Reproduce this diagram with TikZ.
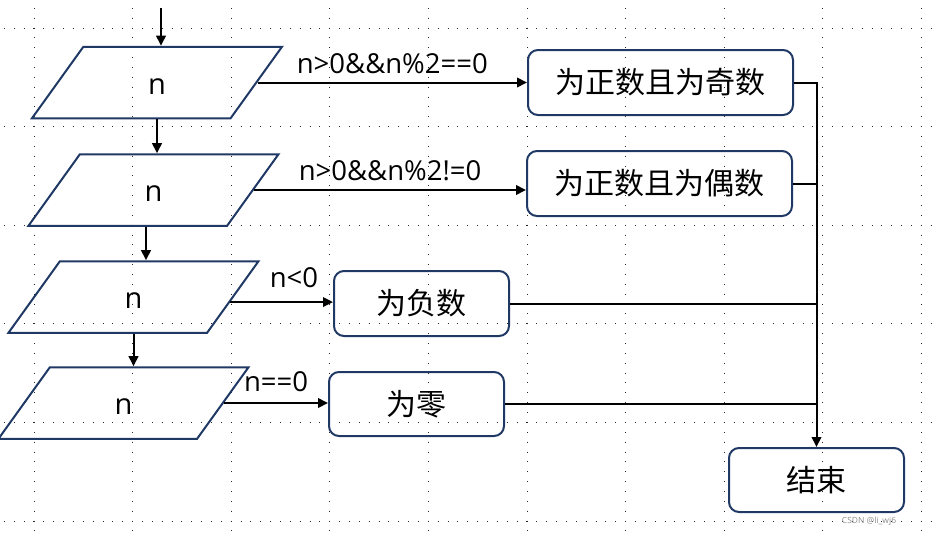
\documentclass[tikz,border=0pt]{standalone}
\usepackage{fontspec}
\setmainfont{Open Sans}
\newfontfamily\cjk{Noto Sans CJK SC}
\usetikzlibrary{shapes.geometric,arrows.meta}
\definecolor{navy}{RGB}{31,56,100}
\tikzset{
	gridline/.style={black!85, line width=1pt, dash pattern=on 1pt off 8.86pt},
	io/.style={trapezium, trapezium left angle=54.3, trapezium right angle=125.7, trapezium stretches body,
		draw=navy, line width=2pt, minimum width=250pt, inner xsep=0pt, inner ysep=24.25pt,
		text height=23pt, text depth=0pt, font=\fontsize{29}{34}\selectfont},
	res/.style={rectangle, rounded corners=10pt, draw=navy, line width=2pt, minimum height=65pt,
		inner sep=0pt, font=\cjk\fontsize{30}{36}\selectfont},
	flow/.style={line width=2pt, -{Triangle[length=10pt,width=9.5pt]}},
	joinline/.style={line width=2pt},
	lbl/.style={inner sep=0pt, font=\fontsize{27.5}{32}\selectfont}
}
\begin{document}
\begin{tikzpicture}[x=1pt,y=-1pt]
		\useasboundingbox (0,0) rectangle (938,536);
		% dotted grid
		\foreach \k in {0,...,5} \draw[gridline] (3.9,28+98.6*\k) -- (938,28+98.6*\k);
		\foreach \k in {0,...,9} \draw[gridline] (34+98.6*\k,7.8) -- (34+98.6*\k,536);
		%
		\node[io] (p1) at (157,82.5) {n};
		\node[io] (p2) at (153.5,190) {n};
		\node[io] (p3) at (133.5,297) {n};
		\node[io] (p4) at (123.5,403) {n};
		%
		\node[res, minimum width=265pt] (b1) at (660.5,82.5) {为正数且为奇数};
		\node[res, minimum width=265pt] (b2) at (659.5,183.5) {为正数且为偶数};
		\node[res, minimum width=175pt] (b3) at (421.5,303.5) {为负数};
		\node[res, minimum width=175pt, minimum height=64pt] (b4) at (416.5,404) {为零};
		\node[res, minimum width=175pt, minimum height=64pt] (b5) at (816.5,480) {结束};
		%
		\coordinate (in) at (161,8);
		\draw[flow] (in) -- (in |- p1.north);
		\draw[flow] (p1.south) -- (p1.south |- p2.north);
		\draw[flow] ([xshift=-7.5pt]p2.south) -- ([xshift=-7.5pt]p2.south |- p3.north);
		\draw[flow] (p3.south) -- (p3.south |- p4.north);
		%
		\draw[flow] (p1.east) -- node[lbl, above=8pt] {n>0\&\&n\%2==0} (p1.east -| b1.west);
		\draw[flow] (p2.east) -- node[lbl, above=8pt] {n>0\&\&n\%2!=0} (p2.east -| b2.west);
		\draw[flow] (p3.-3.6) -- node[lbl, pos=0.62, above=13.5pt] {n<0} (p3.-3.6 -| b3.west);
		\draw[flow] (p4.east) -- node[lbl, above=10pt] {n==0} (p4.east -| b4.west);
		%
		\draw[flow] (b1.east) -- (b1.east -| b5.north) -- (b5.north);
		\foreach \b in {b2,b3,b4} \draw[joinline] (\b.east) -- (\b.east -| b5.north);
		%
		\node[font=\fontsize{8.5}{10}\selectfont, text=black!45] (mark) at (869,521) {CSDN @li\_wj6};
	\end{tikzpicture}
\end{document}
